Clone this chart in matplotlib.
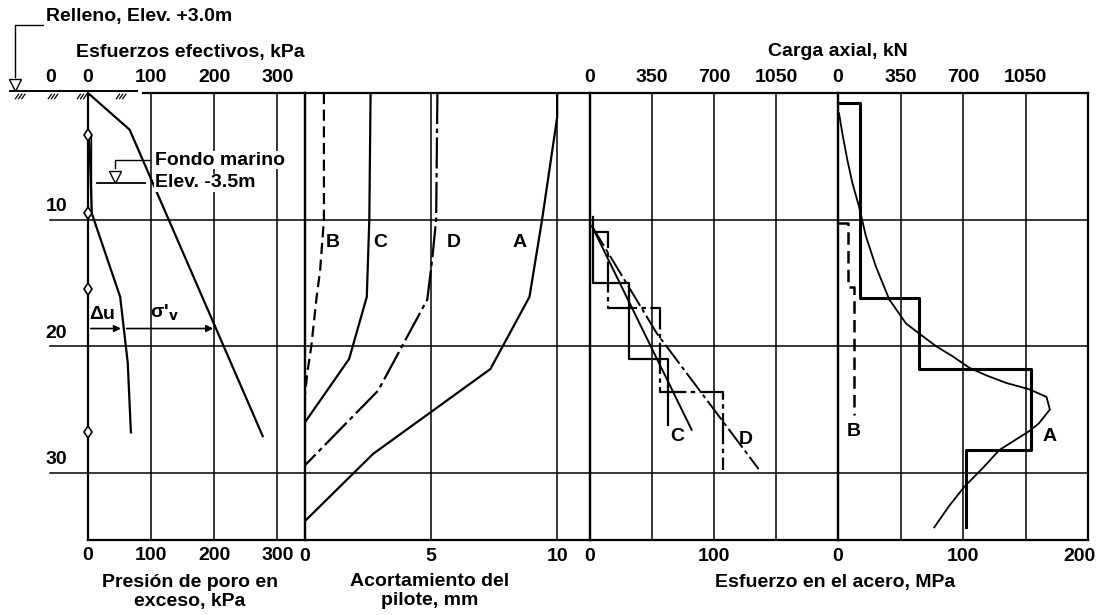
import matplotlib.pyplot as plt
import matplotlib.transforms as mtransforms
import numpy as np

plt.rcParams['font.family'] = ['Liberation Sans', 'DejaVu Sans']
plt.rcParams['font.weight'] = 'bold'
plt.rcParams['font.size'] = 14

# depth below fill surface, m
depth_grid = [10, 20, 30]
depth_max = 35.3

# effective stress and excess pore pressure, kPa
sv_depth = [0, 2.9, 27.1]
sv_kpa = [0, 66, 277]
du_depth = [3.3, 9.5, 16.1, 21.3, 26.8]
du_kpa = [2, 6, 51, 63, 68]
piezo_depth = [3.3, 9.5, 15.5, 26.8]
seabed_depth = 7.1
arrow_depth = 18.6

# pile shortening, mm
shortA_depth = [0, 1.9, 10, 16.1, 21.8, 28.5, 33.8]
shortA_mm = [10.0, 10.0, 9.4, 8.9, 7.35, 2.7, 0]
shortB_depth = [0, 10, 14, 16.3, 20, 22, 23.8]
shortB_mm = [0.75, 0.75, 0.6, 0.45, 0.25, 0.1, 0]
shortC_depth = [0, 10, 16.1, 21.0, 26.0]
shortC_mm = [2.6, 2.55, 2.45, 1.75, 0]
shortD_depth = [0, 10, 13, 16.3, 23.5, 29.4]
shortD_mm = [5.25, 5.2, 5.05, 4.85, 2.9, 0]

# steel stress, MPa (axial load kN = 7 x MPa)
stepC_edges = [9.8, 15.0, 21.0, 26.2]
stepC_mpa = [2.5, 31.7, 63.2]
stepD_edges = [11.0, 17.0, 23.6, 29.8]
stepD_mpa = [14.8, 56.3, 107]
lineC_depth = [10.5, 26.6]
lineC_mpa = [1.5, 82]
lineD_depth = [10.5, 19.0, 29.7]
lineD_mpa = [1.5, 54, 136]

stepA_edges = [0.8, 16.2, 21.8, 28.2, 34.3]
stepA_mpa = [17.4, 65, 154, 102.6]
stepB_edges = [10.3, 15.3, 25.4]
stepB_mpa = [8.3, 12.9]
curveA_depth = [1.6, 3.2, 5.3, 7.1, 9.0, 11.3, 13.7, 16.3, 18.2, 19.0, 20.0, 20.8,
                21.7, 22.3, 22.9, 23.4, 24.0, 25.0, 26.1, 26.7, 28.2, 29.6, 31.1,
                32.6, 34.3]
curveA_mpa = [0.8, 3.5, 7.5, 11.5, 16.9, 22.3, 30.3, 41, 54.4, 65, 78.5, 91.8,
              105, 118.7, 134.7, 153, 166.8, 169.5, 160.6, 153, 129, 116, 101,
              89, 77]

W, H = 1101, 615
TOP, BOT = 93, 540
fig = plt.figure(figsize=(W / 100, H / 100), dpi=100)


def box(x0, x1):
    return [x0 / W, 1 - BOT / H, (x1 - x0) / W, (BOT - TOP) / H]


def steps(edges, vals, start=None):
    xs = [vals[0] if start is None else start]
    ys = [edges[0]]
    for i, v in enumerate(vals):
        xs += [v, v]
        ys += [edges[i], edges[i + 1]]
    return xs, ys


def setup(ax, xlim, grid, bticks, tticks=None):
    ax.set_facecolor('none')
    ax.set_xlim(*xlim)
    ax.set_ylim(depth_max, 0)
    ax.set_yticks([])
    for s in ax.spines.values():
        s.set_linewidth(1.6)
    for g in grid:
        ax.axvline(g, color='k', lw=1.1)
    for d in depth_grid:
        ax.axhline(d, color='k', lw=1.1)
    ax.set_xticks(bticks)
    ax.tick_params(axis='x', length=0, pad=6, labelsize=14)
    if tticks is not None:
        sec = ax.secondary_xaxis('top', functions=(lambda m: m * 7, lambda k: k / 7))
        sec.set_xticks(tticks)
        sec.tick_params(length=0, pad=5, labelsize=14)
        sec.spines['top'].set_visible(False)


ax1 = fig.add_axes(box(88, 305))
ax2 = fig.add_axes(box(305, 590))
ax3 = fig.add_axes(box(590, 838))
ax4 = fig.add_axes(box(838, 1088))

# --- effective stress / pore pressure panel ---
setup(ax1, (0, 344), [100, 200, 300], [0, 100, 200, 300])
ax1.tick_params(axis='x', top=True, labeltop=True)
ax1.xaxis.set_tick_params(which='major', pad=5)
ax1.spines['top'].set_visible(False)
ax1.plot([87, 344], [0, 0], color='k', lw=1.6, clip_on=False)
ax1.plot([-124, 78], [-0.15, -0.15], color='k', lw=1.4, clip_on=False)
for c in [-110, -58, -12, 50]:
    for k in range(3):
        x = c + k * 5
        ax1.plot([x, x - 5], [0.1, 0.45], color='k', lw=0.9, clip_on=False)
for d in depth_grid:
    ax1.plot([-60, 0], [d, d], color='k', lw=1.1, clip_on=False)
    ax1.text(-33, d - 0.35, str(d), ha='right', va='bottom')
ax1.text(-50, -1.2, '0', ha='right', va='center')

ax1.plot(sv_kpa, sv_depth, color='k', lw=1.6)
ax1.plot(du_kpa, du_depth, color='k', lw=1.6)
ax1.plot([4, 4], [3.3, 9.5], color='k', lw=1.0)
ax1.plot(np.zeros(len(piezo_depth)), piezo_depth, ls='none', marker='d',
         ms=6, mfc='white', mec='k', mew=1.2, clip_on=False, zorder=5)

du_here = np.interp(arrow_depth, du_depth, du_kpa)
sv_here = np.interp(arrow_depth, sv_depth, sv_kpa)
ax1.annotate('', xy=(du_here, arrow_depth), xytext=(0, arrow_depth),
             arrowprops=dict(arrowstyle='-|>', color='k', lw=1.2, mutation_scale=10))
ax1.annotate('', xy=(sv_here, arrow_depth), xytext=(du_here, arrow_depth),
             arrowprops=dict(arrowstyle='-|>', color='k', lw=1.2, mutation_scale=10))
ax1.text(2, arrow_depth - 0.4, '\u0394u', ha='left', va='bottom')
ax1.text(98, arrow_depth - 0.4, "\u03c3'$_\\mathbf{v}$", ha='left', va='bottom')

# seabed marker
ax1.plot([14, 90], [seabed_depth, seabed_depth], color='k', lw=1.3)
ax1.plot([98, 43, 43], [5.3, 5.3, 5.9], color='k', lw=1.0)
ax1.plot(43, seabed_depth - 0.5, marker='v', ms=9, mfc='white', mec='k', mew=1.0)
ax1.text(106, 5.3, 'Fondo marino', ha='left', va='center',
         bbox=dict(fc='white', ec='none', pad=0.5))
ax1.text(106, seabed_depth, 'Elev. -3.5m', ha='left', va='center',
         bbox=dict(fc='white', ec='none', pad=0.5))

# fill surface marker
ax1.plot([-71, -116, -116], [-5.4, -5.4, -1.3], color='k', lw=1.0, clip_on=False)
ax1.plot(-116, -0.65, marker='v', ms=9, mfc='white', mec='k', mew=1.0, clip_on=False)

# --- pile shortening panel ---
setup(ax2, (0, 11.3), [5, 10], [0, 5, 10])
ax2.plot(shortA_mm, shortA_depth, color='k', lw=1.6)
ax2.plot(shortB_mm, shortB_depth, color='k', lw=1.6, ls=(0, (5, 2.5)))
ax2.plot(shortC_mm, shortC_depth, color='k', lw=1.6)
ax2.plot(shortD_mm, shortD_depth, color='k', lw=1.6, ls=(0, (14, 2, 2, 2)))
for lab, x in [('B', 1.1), ('C', 3.0), ('D', 5.9), ('A', 8.5)]:
    ax2.text(x, 11.8, lab, ha='center', va='center')

# --- steel stress panels ---
setup(ax3, (0, 200), [50, 100, 150], [0, 100], [0, 350, 700, 1050])
ax3.plot(*steps(stepC_edges, stepC_mpa), color='k', lw=1.6)
ax3.plot(*steps(stepD_edges, stepD_mpa, start=2.5), color='k', lw=1.6,
         ls=(0, (14, 2, 2, 2)))
ax3.plot(lineC_mpa, lineC_depth, color='k', lw=1.4)
ax3.plot(lineD_mpa, lineD_depth, color='k', lw=1.4, ls=(0, (12, 2, 2, 2)))
ax3.text(70, 27.1, 'C', ha='center', va='center')
ax3.text(126, 27.4, 'D', ha='center', va='center')

setup(ax4, (0, 200), [50, 100, 150], [0, 100, 200], [0, 350, 700, 1050])
ax4.plot(*steps(stepA_edges, stepA_mpa, start=0), color='k', lw=2.2)
ax4.plot(*steps(stepB_edges, stepB_mpa, start=0), color='k', lw=1.8, ls=(0, (5, 2.5)))
ax4.plot(curveA_mpa, curveA_depth, color='k', lw=1.3)
ax4.text(12.9, 26.7, 'B', ha='center', va='center')
ax4.text(169, 27.1, 'A', ha='center', va='center')

# keep the last bottom label inside the figure
last = ax4.get_xticklabels()[-1]
last.set_transform(last.get_transform() +
                   mtransforms.ScaledTranslation(-0.08, 0, fig.dpi_scale_trans))

# titles
fig.text(46 / W, 1 - 17 / H, 'Relleno, Elev. +3.0m', ha='left', va='center')
fig.text(190 / W, 1 - 52 / H, 'Esfuerzos efectivos, kPa', ha='center', va='center')
fig.text(838 / W, 1 - 52 / H, 'Carga axial, kN', ha='center', va='center')
fig.text(190 / W, 1 - 592 / H, 'Presión de poro en\nexceso, kPa', ha='center',
         va='center', linespacing=1.1)
fig.text(430 / W, 1 - 591 / H, 'Acortamiento del\npilote, mm', ha='center',
         va='center', linespacing=1.1)
fig.text(835 / W, 1 - 583 / H, 'Esfuerzo en el acero, MPa', ha='center', va='center')

fig.savefig('out.png', dpi=100, facecolor='white')
